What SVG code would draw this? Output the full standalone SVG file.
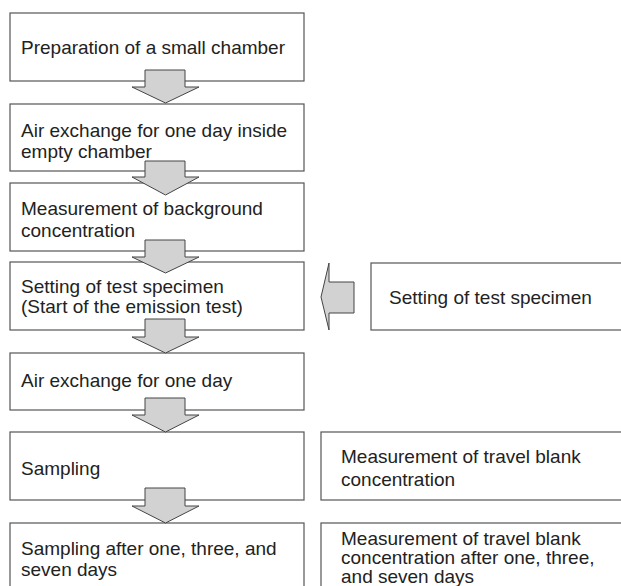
<svg xmlns="http://www.w3.org/2000/svg" width="621" height="586" viewBox="0 0 621 586">
  <style>
    .box { fill: #ffffff; stroke: #555555; stroke-width: 1.2; }
    .lbl { font-family: "Liberation Sans", Arial, sans-serif; font-size: 19px; fill: #222222; }
    .arrow { fill: #d2d2d2; stroke: #444444; stroke-width: 1; stroke-linejoin: miter; }
  </style>
  <rect x="0" y="0" width="621" height="586" fill="#ffffff"/>

  <g id="node-prep">
    <rect class="box" x="10" y="13" width="294" height="68"/>
    <text class="lbl" x="21" y="54">Preparation of a small chamber</text>
  </g>
  <g id="node-air-empty">
    <rect class="box" x="10" y="104" width="294" height="67"/>
    <text class="lbl" x="21" y="137">Air exchange for one day inside</text>
    <text class="lbl" x="21" y="158">empty chamber</text>
  </g>
  <g id="node-background">
    <rect class="box" x="10" y="183" width="294" height="68"/>
    <text class="lbl" x="21" y="215">Measurement of background</text>
    <text class="lbl" x="21" y="237">concentration</text>
  </g>
  <g id="node-setting">
    <rect class="box" x="10" y="262" width="294" height="68"/>
    <text class="lbl" x="21" y="293">Setting of test specimen</text>
    <text class="lbl" x="21" y="313">(Start of the emission test)</text>
  </g>
  <g id="node-air-day">
    <rect class="box" x="10" y="353" width="294" height="57"/>
    <text class="lbl" x="21" y="387">Air exchange for one day</text>
  </g>
  <g id="node-sampling">
    <rect class="box" x="10" y="432" width="294" height="68"/>
    <text class="lbl" x="21" y="475">Sampling</text>
  </g>
  <g id="node-sampling-days">
    <rect class="box" x="10" y="523" width="294" height="80"/>
    <text class="lbl" x="21" y="555">Sampling after one, three, and</text>
    <text class="lbl" x="21" y="576">seven days</text>
  </g>

  <g id="node-setting-right">
    <rect class="box" x="371" y="263" width="260" height="67"/>
    <text class="lbl" x="389" y="304">Setting of test specimen</text>
  </g>
  <g id="node-travel-blank">
    <rect class="box" x="321" y="432" width="310" height="68"/>
    <text class="lbl" x="341" y="463">Measurement of travel blank</text>
    <text class="lbl" x="341" y="486">concentration</text>
  </g>
  <g id="node-travel-blank-days">
    <rect class="box" x="321" y="523" width="310" height="80"/>
    <text class="lbl" x="341" y="545">Measurement of travel blank</text>
    <text class="lbl" x="341" y="564">concentration after one, three,</text>
    <text class="lbl" x="341" y="583">and seven days</text>
  </g>

  <g id="connectors">
    <polygon class="arrow" points="145,70 185,70 185,87 199,87 165.5,103 132,87 145,87"/>
    <polygon class="arrow" points="145,161 185,161 185,177 199,177 165.5,195 132,177 145,177"/>
    <polygon class="arrow" points="145,240 185,240 185,257 199,257 165.5,273 132,257 145,257"/>
    <polygon class="arrow" points="145,319 185,319 185,337 199,337 165.5,353 132,337 145,337"/>
    <polygon class="arrow" points="145,398 185,398 185,415 199,415 165.5,432 132,415 145,415"/>
    <polygon class="arrow" points="145,488 185,488 185,506 199,506 165.5,523 132,506 145,506"/>
    <polygon class="arrow" points="321,297 329,263 329,282 354,282 354,313 329,313 329,330"/>
  </g>
</svg>
